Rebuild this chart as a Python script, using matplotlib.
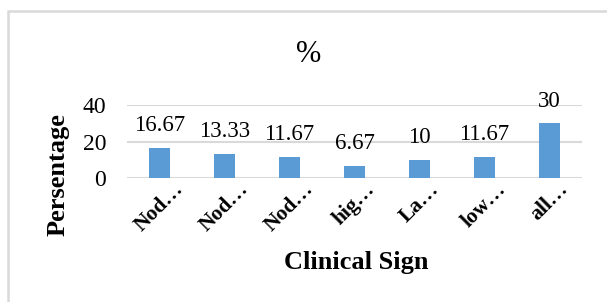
import matplotlib.pyplot as plt
import matplotlib.patches as patches

signs = ['Nod\u2026', 'Nod\u2026', 'Nod\u2026', 'hig\u2026', 'La\u2026', 'low\u2026', 'all\u2026']
values = [16.67, 13.33, 11.67, 6.67, 10, 11.67, 30]
value_labels = ['16.67', '13.33', '11.67', '6.67', '10', '11.67', '30']
yticks = [0, 20, 40]

plt.rcParams['font.family'] = 'Liberation Serif'

fig = plt.figure(figsize=(6.07, 3.02), dpi=100)
ax = fig.add_axes([127/607, 1-178/302, 455/607, 73/302])

# chart border (light gray box like Excel's chart area)
fig.patches.append(patches.Rectangle((8/607, -0.1), 1.0, 1-11/302+0.1, transform=fig.transFigure,
                                     fill=False, edgecolor='#d9d9d9', linewidth=1.8))

x = range(len(values))
ax.bar(x, values, width=0.31, color='#5b9bd5', zorder=3)
for i, v in enumerate(values):
    ax.annotate(value_labels[i], (i, v), xytext=(0, 12), textcoords='offset points',
                ha='center', va='baseline', fontsize=16.5)

ax.set_xlim(-0.5, len(values)-0.5)
ax.set_ylim(0, 40)
ax.set_yticks(yticks)
ax.set_yticklabels([str(t) for t in yticks], fontsize=17)
ax.set_xticks(list(x))
ax.set_xticklabels(signs, rotation=45, fontsize=15.5, fontweight='bold')
ax.tick_params(axis='y', length=0, pad=15)
ax.tick_params(axis='x', length=0, pad=1)
ax.grid(axis='y', color='#d9d9d9', linewidth=1.5, zorder=0)
for s in ax.spines.values():
    s.set_visible(False)

ax.set_ylabel('Persentage', fontsize=19, fontweight='bold', va='center')
ax.yaxis.set_label_coords((58-127)/455, (178-175)/73)
ax.set_xlabel('Clinical Sign', fontsize=19, fontweight='bold', va='center')
ax.xaxis.set_label_coords((356-127)/455, (178-263)/73)

fig.text(309/607, 1-55/302, '%', fontsize=22, ha='center', va='center')

fig.savefig('out.png', dpi=100)
